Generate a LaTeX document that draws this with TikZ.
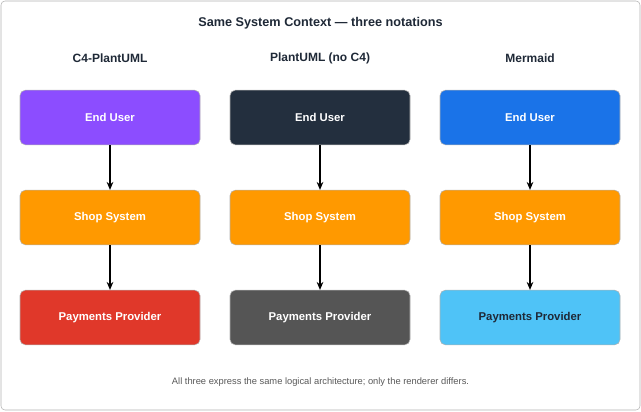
\documentclass[tikz,border=0pt]{standalone}
\usepackage{fontspec}
\setmainfont{Liberation Sans}
\usetikzlibrary{arrows.meta, positioning}
\definecolor{cpurple}{HTML}{8C4DFF}
\definecolor{cdark}{HTML}{232F3E}
\definecolor{cblue}{HTML}{1A73E8}
\definecolor{corange}{HTML}{FF9900}
\definecolor{cred}{HTML}{E0382A}
\definecolor{cgray}{HTML}{555555}
\definecolor{clight}{HTML}{4FC3F7}
\definecolor{ctext}{HTML}{1F2937}
\tikzset{
  box/.style={draw=black!30, rounded corners=4pt, minimum width=135pt, minimum height=41pt,
    text=white, font=\fontsize{8.5}{10}\selectfont\bfseries},
  head/.style={font=\fontsize{9}{11}\selectfont\bfseries, text=ctext},
  flow/.style={-{Stealth[length=6pt,width=5pt]}, thick}
}
\begin{document}
\begin{tikzpicture}[x=0.75pt,y=-0.75pt]
    % Frame
    \useasboundingbox (0,0) rectangle (641,411);
    \draw[black!30, fill=white, rounded corners=3pt] (1,1) rectangle (640,410);

    % Title
    \node[font=\fontsize{9.5}{11}\selectfont\bfseries, text=ctext] (title) at (320.5,23) {Same System Context — three notations};

    % Column headers
    \node[head] (h1) at (110,58) {C4-PlantUML};
    \node[head] (h2) at (320,58) {PlantUML (no C4)};
    \node[head] (h3) at (530,58) {Mermaid};

    % C4-PlantUML
    \node[box, fill=cpurple] (u1) at (110,117.5) {End User};
    \node[box, fill=corange] (s1) at (110,217.5) {Shop System};
    \node[box, fill=cred] (p1) at (110,317.5) {Payments Provider};

    % PlantUML
    \node[box, fill=cdark] (u2) at (320,117.5) {End User};
    \node[box, fill=corange] (s2) at (320,217.5) {Shop System};
    \node[box, fill=cgray] (p2) at (320,317.5) {Payments Provider};

    % Mermaid
    \node[box, fill=cblue] (u3) at (530,117.5) {End User};
    \node[box, fill=corange] (s3) at (530,217.5) {Shop System};
    \node[box, fill=clight, text=ctext] (p3) at (530,317.5) {Payments Provider};

    % Arrows
    \foreach \i in {1,2,3} {
        \draw[flow] (u\i) -- (s\i);
        \draw[flow] (s\i) -- (p\i);
    }

    % Footer
    \node[font=\fontsize{7}{9}\selectfont, text=black!65] (foot) at (320.5,382) {All three express the same logical architecture; only the renderer differs.};
\end{tikzpicture}
\end{document}
